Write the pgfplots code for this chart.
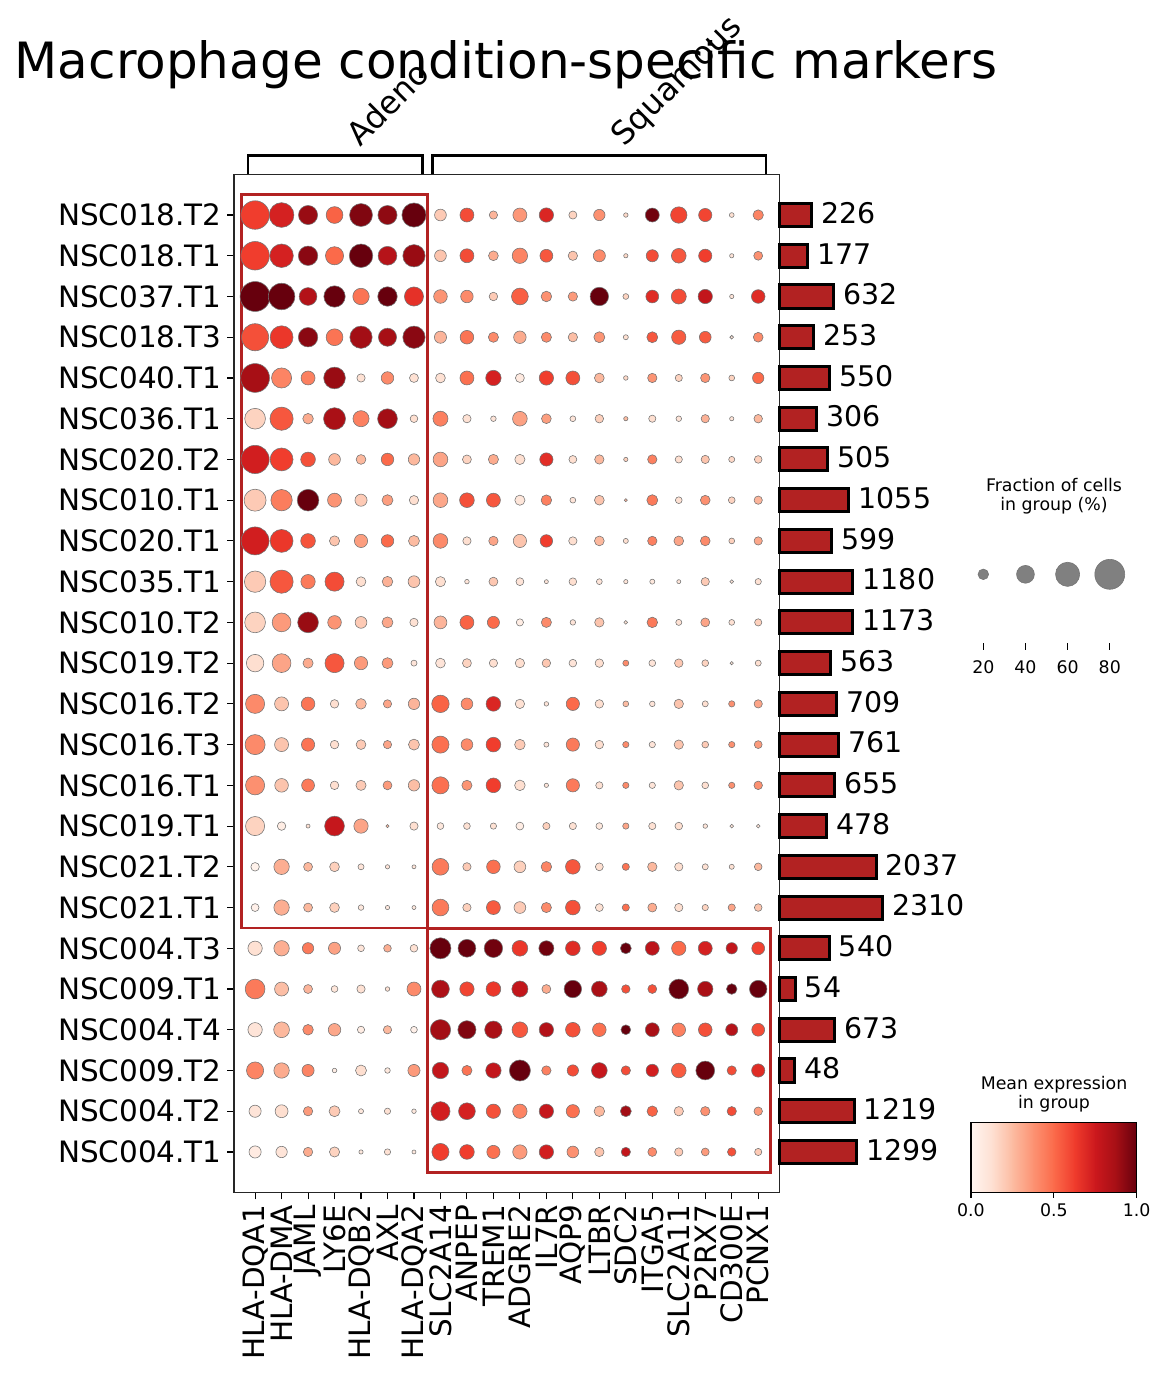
\documentclass[border=0pt]{standalone}
\usepackage{pgfplots}
\pgfplotsset{compat=1.18}
\usepackage{pgfplotstable}
\usepackage{fontspec}
\setmainfont{DejaVu Sans}
\definecolor{firebrick}{HTML}{B22222}
\definecolor{r0}{RGB}{255,245,240}
\definecolor{r1}{RGB}{254,224,210}
\definecolor{r2}{RGB}{252,187,161}
\definecolor{r3}{RGB}{252,146,114}
\definecolor{r4}{RGB}{251,106,74}
\definecolor{r5}{RGB}{239,59,44}
\definecolor{r6}{RGB}{203,24,29}
\definecolor{r7}{RGB}{165,15,21}
\definecolor{r8}{RGB}{103,0,13}
\pgfplotsset{colormap={reds}{rgb255=(255,245,240) rgb255=(254,224,210) rgb255=(252,187,161) rgb255=(252,146,114) rgb255=(251,106,74) rgb255=(239,59,44) rgb255=(203,24,29) rgb255=(165,15,21) rgb255=(103,0,13)}}
\newcommand{\tfont}{\fontsize{21.2}{25}\selectfont}
\newcommand{\bfont}{\fontsize{20.5}{24}\selectfont}
\newcommand{\sfont}{\fontsize{12.5}{15}\selectfont}
\newcommand{\gfont}{\fontsize{23}{27}\selectfont}

% Adeno genes: c = column, r = row, f = fraction of cells (%), v = mean expression
\pgfplotstableread[row sep=\\]{
c r f v\\
0 0 75 0.62\\ 1 0 62 0.72\\ 2 0 44 0.90\\ 3 0 37 0.52\\ 4 0 56 0.95\\ 5 0 44 0.92\\ 6 0 60 1.00\\
0 1 75 0.62\\ 1 1 58 0.72\\ 2 1 45 0.93\\ 3 1 41 0.50\\ 4 1 58 1.00\\ 5 1 43 0.82\\ 6 1 54 0.90\\
0 2 80 1.00\\ 1 2 68 1.00\\ 2 2 40 0.83\\ 3 2 51 1.00\\ 4 2 36 0.47\\ 5 2 45 1.00\\ 6 2 44 0.66\\
0 3 70 0.57\\ 1 3 56 0.64\\ 2 3 45 0.93\\ 3 3 37 0.47\\ 4 3 54 0.88\\ 5 3 41 0.87\\ 6 3 54 0.93\\
0 4 76 0.87\\ 1 4 47 0.42\\ 2 4 29 0.43\\ 3 4 52 0.90\\ 4 4 14.5 0.12\\ 5 4 25 0.40\\ 6 4 16 0.12\\
0 5 49 0.17\\ 1 5 57 0.55\\ 2 5 20 0.30\\ 3 5 53 0.86\\ 4 5 35 0.43\\ 5 5 46 0.88\\ 6 5 13 0.13\\
0 6 74 0.73\\ 1 6 56 0.62\\ 2 6 31 0.57\\ 3 6 23 0.26\\ 4 6 18 0.26\\ 5 6 25 0.50\\ 6 6 22 0.26\\
0 7 53 0.20\\ 1 7 51 0.44\\ 2 7 52 1.00\\ 3 7 29 0.37\\ 4 7 24 0.20\\ 5 7 21 0.34\\ 6 7 17 0.13\\
0 8 73 0.73\\ 1 8 56 0.64\\ 2 8 31 0.56\\ 3 8 19 0.22\\ 4 8 27 0.34\\ 5 8 25 0.50\\ 6 8 21 0.25\\
0 9 51 0.20\\ 1 9 57 0.55\\ 2 9 30 0.45\\ 3 9 44 0.58\\ 4 9 18 0.13\\ 5 9 20 0.28\\ 6 9 23 0.22\\
0 10 49 0.17\\ 1 10 43 0.35\\ 2 10 49 0.90\\ 3 10 28 0.37\\ 4 10 23 0.20\\ 5 10 21 0.31\\ 6 10 14.5 0.12\\
0 11 39 0.13\\ 1 11 43 0.32\\ 2 11 19 0.30\\ 3 11 44 0.55\\ 4 11 27 0.35\\ 5 11 21 0.35\\ 6 11 9.5 0.10\\
0 12 44 0.40\\ 1 12 29 0.22\\ 2 12 28 0.47\\ 3 12 15 0.13\\ 4 12 20 0.26\\ 5 12 14.5 0.32\\ 6 12 22 0.27\\
0 13 47 0.40\\ 1 13 29 0.22\\ 2 13 27 0.47\\ 3 13 15 0.13\\ 4 13 18 0.20\\ 5 13 14.5 0.32\\ 6 13 21 0.22\\
0 14 44 0.38\\ 1 14 28 0.22\\ 2 14 26 0.45\\ 3 14 15 0.13\\ 4 14 19 0.20\\ 5 14 16 0.35\\ 6 14 22 0.24\\
0 15 44 0.17\\ 1 15 15 0.05\\ 2 15 5.5 0.12\\ 3 15 46 0.77\\ 4 15 30 0.32\\ 5 15 4 0.25\\ 6 15 14.5 0.13\\
0 16 15 0.02\\ 1 16 33 0.29\\ 2 16 16 0.26\\ 3 16 18 0.18\\ 4 16 9.5 0.10\\ 5 16 6 0.10\\ 6 16 5.5 0.10\\
0 17 13.5 0.03\\ 1 17 33 0.29\\ 2 17 16 0.26\\ 3 17 18 0.18\\ 4 17 8.5 0.08\\ 5 17 6 0.08\\ 6 17 5.5 0.08\\
0 18 30 0.12\\ 1 18 33 0.29\\ 2 18 22 0.45\\ 3 18 24 0.33\\ 4 18 11 0.10\\ 5 18 13 0.29\\ 6 18 13 0.12\\
0 19 46 0.45\\ 1 19 29 0.24\\ 2 19 16 0.27\\ 3 19 11 0.09\\ 4 19 14.5 0.12\\ 5 19 6.5 0.12\\ 6 19 29 0.40\\
0 20 30 0.10\\ 1 20 34 0.26\\ 2 20 20 0.40\\ 3 20 25 0.31\\ 4 20 12 0.05\\ 5 20 14.5 0.26\\ 6 20 11 0.03\\
0 21 38 0.42\\ 1 21 33 0.30\\ 2 21 24 0.42\\ 3 21 6.5 0.05\\ 4 21 21 0.13\\ 5 21 8.5 0.08\\ 6 21 24 0.35\\
0 22 24 0.10\\ 1 22 26 0.13\\ 2 22 17 0.35\\ 3 22 21 0.20\\ 4 22 7.5 0.08\\ 5 22 10 0.12\\ 6 22 6.5 0.08\\
0 23 24 0.06\\ 1 23 22 0.10\\ 2 23 17 0.30\\ 3 23 19 0.17\\ 4 23 6 0.08\\ 5 23 10 0.12\\ 6 23 5.5 0.08\\
}\adeno

% Squamous genes
\pgfplotstableread[row sep=\\]{
c r f v\\
7 0 23 0.20\\ 8 0 29 0.58\\ 9 0 14.5 0.27\\ 10 0 29 0.36\\ 11 0 30 0.70\\ 12 0 14 0.17\\ 13 0 22 0.38\\ 14 0 6.4 0.15\\ 15 0 29 0.98\\ 16 0 36 0.60\\ 17 0 27 0.60\\ 18 0 7 0.12\\ 19 0 19.5 0.42\\
7 1 23 0.22\\ 8 1 29 0.58\\ 9 1 18 0.30\\ 10 1 33 0.42\\ 11 1 26 0.55\\ 12 1 17 0.22\\ 13 1 24 0.40\\ 14 1 6 0.15\\ 15 1 24 0.58\\ 16 1 31 0.55\\ 17 1 27 0.62\\ 18 1 6 0.10\\ 19 1 16 0.38\\
7 2 28 0.37\\ 8 2 25 0.40\\ 9 2 15 0.20\\ 10 2 37 0.53\\ 11 2 20 0.38\\ 12 2 17 0.35\\ 13 2 42 1.00\\ 14 2 9 0.17\\ 15 2 26 0.68\\ 16 2 32 0.58\\ 17 2 30 0.78\\ 18 2 6 0.10\\ 19 2 28 0.68\\
7 3 24 0.27\\ 8 3 28 0.47\\ 9 3 19 0.40\\ 10 3 25 0.30\\ 11 3 19 0.40\\ 12 3 17 0.24\\ 13 3 21 0.37\\ 14 3 7.5 0.13\\ 15 3 21 0.55\\ 16 3 30 0.54\\ 17 3 23 0.54\\ 18 3 5 0.10\\ 19 3 18 0.40\\
7 4 18 0.12\\ 8 4 29 0.48\\ 9 4 33 0.72\\ 10 4 16 0.07\\ 11 4 30 0.62\\ 12 4 29 0.57\\ 13 4 18 0.26\\ 14 4 6.5 0.15\\ 15 4 17 0.37\\ 16 4 12 0.17\\ 17 4 17 0.37\\ 18 4 9 0.17\\ 19 4 22 0.50\\
7 5 32 0.43\\ 8 5 14.5 0.12\\ 9 5 8.5 0.10\\ 10 5 31 0.33\\ 11 5 18 0.34\\ 12 5 9 0.10\\ 13 5 15 0.18\\ 14 5 6 0.25\\ 15 5 12 0.13\\ 16 5 8.5 0.10\\ 17 5 14.5 0.28\\ 18 5 6 0.10\\ 19 5 15 0.26\\
7 6 31 0.32\\ 8 6 16 0.17\\ 9 6 19 0.30\\ 10 6 19 0.13\\ 11 6 27 0.67\\ 12 6 13.5 0.13\\ 13 6 17 0.26\\ 14 6 6 0.18\\ 15 6 17 0.43\\ 16 6 12 0.13\\ 17 6 14.5 0.22\\ 18 6 9.5 0.15\\ 19 6 13 0.18\\
7 7 31 0.31\\ 8 7 31 0.57\\ 9 7 29 0.55\\ 10 7 19 0.09\\ 11 7 20 0.43\\ 12 7 9 0.10\\ 13 7 18 0.22\\ 14 7 4 0.27\\ 15 7 21 0.45\\ 16 7 11 0.12\\ 17 7 18 0.38\\ 18 7 11 0.17\\ 19 7 14.5 0.27\\
7 8 31 0.40\\ 8 8 14.5 0.13\\ 9 8 17 0.32\\ 10 8 27 0.22\\ 11 8 25 0.62\\ 12 8 14.5 0.13\\ 13 8 18 0.26\\ 14 8 7.5 0.13\\ 15 8 17 0.43\\ 16 8 18 0.32\\ 17 8 18 0.40\\ 18 8 9 0.18\\ 19 8 14.5 0.31\\
7 9 19 0.13\\ 8 9 6.5 0.10\\ 9 9 16 0.21\\ 10 9 13.5 0.10\\ 11 9 5.5 0.10\\ 12 9 13 0.13\\ 13 9 9 0.10\\ 14 9 6 0.10\\ 15 9 7.5 0.08\\ 16 9 5.5 0.10\\ 17 9 14.5 0.20\\ 18 9 5 0.10\\ 19 9 10 0.12\\
7 10 26 0.27\\ 8 10 29 0.52\\ 9 10 24 0.50\\ 10 10 12 0.05\\ 11 10 19 0.40\\ 12 10 8.5 0.10\\ 13 10 17 0.22\\ 14 10 5 0.12\\ 15 10 20 0.45\\ 16 10 9.5 0.12\\ 17 10 16 0.32\\ 18 10 9 0.12\\ 19 10 12 0.18\\
7 11 18 0.10\\ 8 11 16 0.17\\ 9 11 14.5 0.13\\ 10 11 17 0.13\\ 11 11 15 0.21\\ 12 11 13 0.10\\ 13 11 15 0.13\\ 14 11 9.5 0.40\\ 15 11 11 0.10\\ 16 11 15 0.21\\ 17 11 11 0.17\\ 18 11 4.5 0.10\\ 19 11 9.5 0.13\\
7 12 39 0.52\\ 8 12 23 0.40\\ 9 12 31 0.70\\ 10 12 17 0.12\\ 11 12 6.5 0.10\\ 12 12 27 0.50\\ 13 12 15 0.13\\ 14 12 9 0.25\\ 15 12 8.5 0.10\\ 16 12 17 0.22\\ 17 12 9.5 0.13\\ 18 12 10 0.38\\ 19 12 14.5 0.32\\
7 13 38 0.48\\ 8 13 23 0.40\\ 9 13 31 0.62\\ 10 13 20 0.20\\ 11 13 7.5 0.10\\ 12 13 27 0.45\\ 13 13 15 0.13\\ 14 13 10 0.40\\ 15 13 10 0.10\\ 16 13 17 0.22\\ 17 13 11 0.20\\ 18 13 10 0.38\\ 19 13 13.5 0.35\\
7 14 38 0.48\\ 8 14 19 0.37\\ 9 14 31 0.62\\ 10 14 20 0.13\\ 11 14 6 0.10\\ 12 14 27 0.45\\ 13 14 12 0.12\\ 14 14 10 0.40\\ 15 14 10 0.10\\ 16 14 17 0.22\\ 17 14 11 0.13\\ 18 14 10 0.38\\ 19 14 15 0.38\\
7 15 11 0.08\\ 8 15 11 0.12\\ 9 15 10 0.12\\ 10 15 13.5 0.05\\ 11 15 12 0.18\\ 12 15 12 0.12\\ 13 15 11 0.08\\ 14 15 10 0.32\\ 15 15 12 0.12\\ 16 15 13 0.13\\ 17 15 6.5 0.10\\ 18 15 5 0.10\\ 19 15 5 0.10\\
7 16 37 0.45\\ 8 16 14.5 0.20\\ 9 16 28 0.48\\ 10 16 23 0.18\\ 11 16 20 0.42\\ 12 16 31 0.55\\ 13 16 13.5 0.13\\ 14 16 12 0.47\\ 15 16 17 0.26\\ 16 16 14.5 0.13\\ 17 16 9.5 0.12\\ 18 16 7.5 0.12\\ 19 16 13 0.26\\
7 17 37 0.45\\ 8 17 14.5 0.18\\ 9 17 29 0.54\\ 10 17 23 0.20\\ 11 17 19 0.40\\ 12 17 31 0.57\\ 13 17 13.5 0.12\\ 14 17 12 0.48\\ 15 17 16 0.30\\ 16 17 14.5 0.13\\ 17 17 10 0.17\\ 18 17 12 0.32\\ 19 17 13 0.22\\
7 18 50 1.00\\ 8 18 40 1.00\\ 9 18 42 0.98\\ 10 18 34 0.64\\ 11 18 32 0.98\\ 12 18 31 0.68\\ 13 18 30 0.62\\ 14 18 21 1.00\\ 15 18 29 0.80\\ 16 18 30 0.50\\ 17 18 29 0.72\\ 18 18 22 0.78\\ 19 18 26 0.61\\
7 19 40 0.85\\ 8 19 30 0.60\\ 9 19 31 0.64\\ 10 19 35 0.78\\ 11 19 16 0.30\\ 12 19 39 1.00\\ 13 19 34 0.86\\ 14 19 15 0.57\\ 15 19 16 0.57\\ 16 19 46 1.00\\ 17 19 33 0.86\\ 18 19 20 1.00\\ 19 19 39 1.00\\
7 20 48 0.88\\ 8 20 41 0.95\\ 9 20 39 0.86\\ 10 20 34 0.55\\ 11 20 30 0.83\\ 12 20 31 0.57\\ 13 20 28 0.48\\ 14 20 18 1.00\\ 15 20 29 0.86\\ 16 20 28 0.43\\ 17 20 28 0.57\\ 18 20 24 0.82\\ 19 20 26 0.58\\
7 21 36 0.78\\ 8 21 19 0.47\\ 9 21 33 0.78\\ 10 21 50 1.00\\ 11 21 17 0.43\\ 12 21 22 0.58\\ 13 21 34 0.77\\ 14 21 17 0.58\\ 15 21 25 0.73\\ 16 21 31 0.54\\ 17 21 43 1.00\\ 18 21 17 0.58\\ 19 21 27 0.68\\
7 22 44 0.73\\ 8 22 37 0.72\\ 9 22 30 0.57\\ 10 22 30 0.42\\ 11 22 30 0.77\\ 12 22 27 0.48\\ 13 22 20 0.26\\ 14 22 21 0.88\\ 15 22 20 0.52\\ 16 22 17 0.20\\ 17 22 17 0.38\\ 18 22 17 0.58\\ 19 22 15 0.35\\
7 23 38 0.62\\ 8 23 31 0.62\\ 9 23 27 0.48\\ 10 23 30 0.35\\ 11 23 30 0.73\\ 12 23 23 0.38\\ 13 23 17 0.22\\ 14 23 17 0.78\\ 15 23 16 0.40\\ 16 23 14.5 0.20\\ 17 23 13.5 0.35\\ 18 23 15 0.57\\ 19 23 12 0.20\\
}\squamous

% cells per group
\pgfplotstableread[row sep=\\]{
r n\\
0 226\\ 1 177\\ 2 632\\ 3 253\\ 4 550\\ 5 306\\ 6 505\\ 7 1055\\ 8 599\\ 9 1180\\ 10 1173\\ 11 563\\
12 709\\ 13 761\\ 14 655\\ 15 478\\ 16 2037\\ 17 2310\\ 18 540\\ 19 54\\ 20 673\\ 21 48\\ 22 1219\\ 23 1299\\
}\totals

\pgfplotstableread[row sep=\\]{
f y\\ 20 0.6\\ 40 0.6\\ 60 0.6\\ 80 0.6\\
}\sizeleg

\begin{document}
\begin{tikzpicture}
\useasboundingbox (0pt,0pt) rectangle (839.52pt,990pt);

% ---------------- main dot plot ----------------
\begin{axis}[
  at={(168.55pt,131.26pt)}, anchor=south west, scale only axis,
  width=392.62pt, height=733.25pt,
  xmin=-0.793, xmax=19.80, ymin=-1, ymax=24, y dir=reverse,
  xtick={0,...,19},
  xticklabels={HLA-DQA1,HLA-DMA,JAML,LY6E,HLA-DQB2,AXL,HLA-DQA2,SLC2A14,ANPEP,TREM1,ADGRE2,IL7R,AQP9,LTBR,SDC2,ITGA5,SLC2A11,P2RX7,CD300E,PCNX1},
  ytick={0,...,23},
  yticklabels={NSC018.T2,NSC018.T1,NSC037.T1,NSC018.T3,NSC040.T1,NSC036.T1,NSC020.T2,NSC010.T1,NSC020.T1,NSC035.T1,NSC010.T2,NSC019.T2,NSC016.T2,NSC016.T3,NSC016.T1,NSC019.T1,NSC021.T2,NSC021.T1,NSC004.T3,NSC009.T1,NSC004.T4,NSC009.T2,NSC004.T2,NSC004.T1},
  tick pos=left, tick align=outside, major tick length=4.8pt,
  tick style={black, line width=0.8pt},
  x tick label style={rotate=90, anchor=east, inner sep=0pt, font=\tfont},
  y tick label style={anchor=east, inner sep=0pt, font=\tfont},
  xticklabel shift=4pt, yticklabel shift=4pt,
  axis line style={black!85, line width=0.9pt},
  clip=false,
  colormap name=reds, point meta min=0, point meta max=1,
]
\addplot[scatter, only marks, mark=*, scatter src=explicit,
  scatter/use mapped color={draw=black!55, fill=mapped color},
  visualization depends on={0.4032*(\thisrow{f})^0.75 \as \rad},
  scatter/@pre marker code/.append style={/tikz/mark size=\rad},
  mark options={line width=0.4pt}]
  table[x=c, y=r, meta=v]{\adeno};
\addplot[scatter, only marks, mark=*, scatter src=explicit,
  scatter/use mapped color={draw=black!55, fill=mapped color},
  visualization depends on={0.4032*(\thisrow{f})^0.75 \as \rad},
  scatter/@pre marker code/.append style={/tikz/mark size=\rad},
  mark options={line width=0.4pt}]
  table[x=c, y=r, meta=v]{\squamous};
\draw[firebrick, line width=2pt] (axis cs:-0.5,-0.5) rectangle (axis cs:6.5,17.5);
\draw[firebrick, line width=2pt] (axis cs:6.5,17.52) rectangle (axis cs:19.47,23.5);
\draw[black, line width=1.6pt] (axis cs:-0.264,-1) -- (axis cs:-0.264,-1.46) -- (axis cs:6.325,-1.46) -- (axis cs:6.325,-1);
\draw[black, line width=1.6pt] (axis cs:6.696,-1) -- (axis cs:6.696,-1.46) -- (axis cs:19.30,-1.46) -- (axis cs:19.30,-1);
\node[rotate=45, anchor=base west, inner sep=0pt, font=\gfont] at (axis cs:3.96,-1.65) {Adeno};
\node[rotate=45, anchor=base west, inner sep=0pt, font=\gfont] at (axis cs:13.93,-1.65) {Squamous};
\end{axis}

% ---------------- totals bar plot ----------------
\begin{axis}[
  at={(561.17pt,131.26pt)}, anchor=south west, scale only axis,
  width=144pt, height=733.25pt,
  xmin=0, xmax=93.46, ymin=-1, ymax=24, y dir=reverse,
  hide axis, clip=false,
  xbar, bar width=16.6pt,
  x filter/.expression={sqrt(x)},
  nodes near coords, point meta=explicit symbolic,
  every node near coord/.append style={anchor=west, inner sep=0pt, xshift=6pt, yshift=1.5pt, font=\bfont, black},
]
\addplot[fill=firebrick, draw=black, line width=2.16pt] table[x=n, y=r, meta=n]{\totals};
\end{axis}

% ---------------- size legend ----------------
\begin{axis}[
  at={(692.8pt,526.8pt)}, anchor=south west, scale only axis,
  width=121.4pt, height=82.8pt,
  xmin=10, xmax=90, ymin=0, ymax=1,
  axis line style={draw=none},
  xtick={20,40,60,80}, xticklabels={20,40,60,80}, ytick=\empty,
  xtick pos=left, tick align=outside, major tick length=4.8pt,
  tick style={black, line width=0.8pt},
  x tick label style={font=\sfont, inner sep=0pt},
  xticklabel shift=7.5pt,
  clip=false,
]
\addplot[scatter, only marks, mark=*,
  scatter/use mapped color={draw=black!55, fill=gray},
  visualization depends on={0.4032*(\thisrow{f})^0.75 \as \rad},
  scatter/@pre marker code/.append style={/tikz/mark size=\rad},
  mark options={line width=0.4pt}]
  table[x=f, y=y]{\sizeleg};
\end{axis}

% ---------------- colour bar ----------------
\begin{axis}[
  at={(699.1pt,131.54pt)}, anchor=south west, scale only axis,
  width=119.3pt, height=50.4pt,
  xmin=0, xmax=1, ymin=0, ymax=1,
  ytick=\empty, xtick={0,0.5,1}, xticklabels={0.0,0.5,1.0},
  xtick pos=left, tick align=outside, major tick length=3.9pt,
  tick style={black, line width=0.8pt},
  x tick label style={font=\sfont, inner sep=0pt},
  xticklabel shift=4pt,
  axis line style={black, line width=0.8pt}, axis on top,
]
\fill[left color=r0, right color=r1] (axis cs:0,0) rectangle (axis cs:0.129,1);
\fill[left color=r1, right color=r2] (axis cs:0.125,0) rectangle (axis cs:0.254,1);
\fill[left color=r2, right color=r3] (axis cs:0.25,0) rectangle (axis cs:0.379,1);
\fill[left color=r3, right color=r4] (axis cs:0.375,0) rectangle (axis cs:0.504,1);
\fill[left color=r4, right color=r5] (axis cs:0.5,0) rectangle (axis cs:0.629,1);
\fill[left color=r5, right color=r6] (axis cs:0.625,0) rectangle (axis cs:0.754,1);
\fill[left color=r6, right color=r7] (axis cs:0.75,0) rectangle (axis cs:0.879,1);
\fill[left color=r7, right color=r8] (axis cs:0.875,0) rectangle (axis cs:1,1);
\end{axis}

% ---------------- texts ----------------
\node[anchor=base, inner sep=0pt, font=\fontsize{36}{43}\selectfont] at (364.3pt,933.5pt) {Macrophage condition-specific markers};
\node[anchor=base, inner sep=0pt, font=\sfont] at (758.9pt,636.0pt) {Fraction of cells};
\node[anchor=base, inner sep=0pt, font=\sfont] at (758.9pt,622.3pt) {in group (\%)};
\node[anchor=base, inner sep=0pt, font=\sfont] at (758.9pt,205.2pt) {Mean expression};
\node[anchor=base, inner sep=0pt, font=\sfont] at (758.9pt,192.2pt) {in group};
\end{tikzpicture}
\end{document}
